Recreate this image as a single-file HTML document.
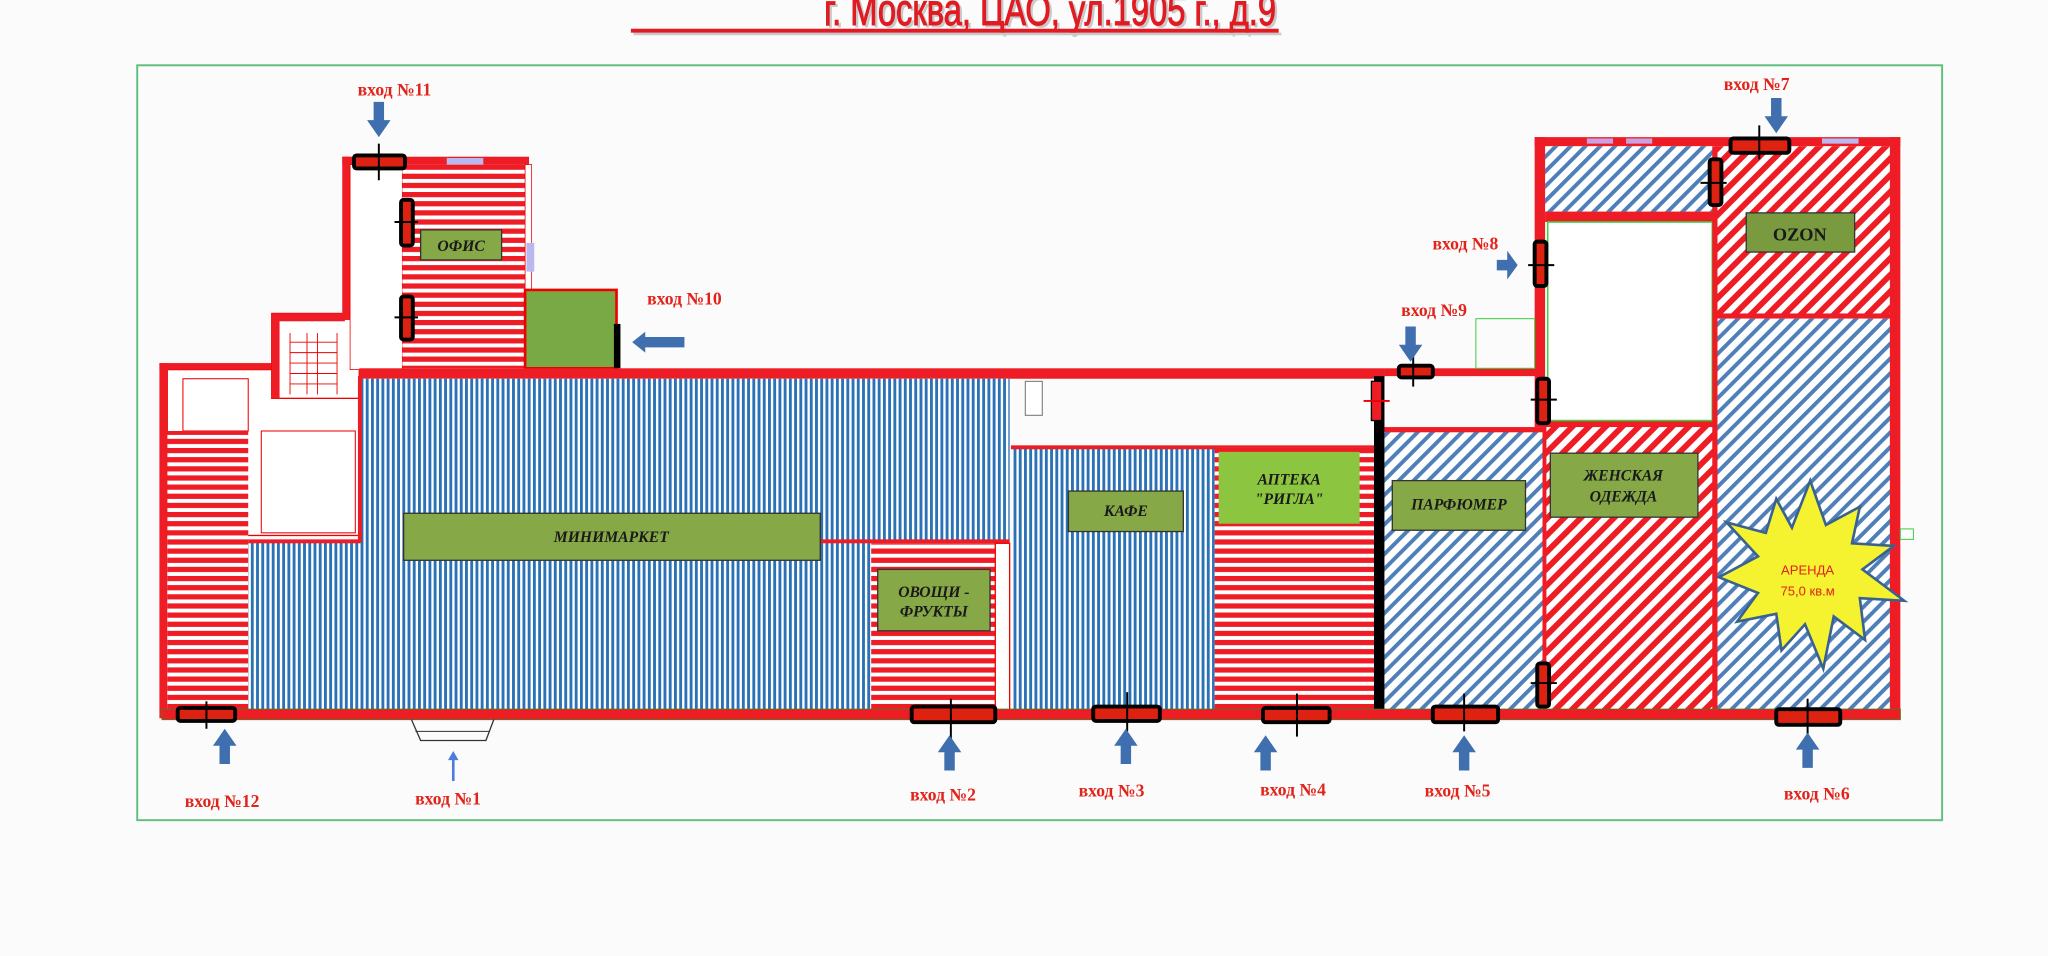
<!DOCTYPE html>
<html><head><meta charset="utf-8"><style>html,body{margin:0;padding:0;background:#fbfbfb}svg{display:block}</style></head><body>
<svg width="2048" height="956" viewBox="0 0 1568 732" xmlns="http://www.w3.org/2000/svg">
<defs>
<pattern id="bv" width="4" height="4" patternUnits="userSpaceOnUse"><rect width="4" height="4" fill="#fff"/><rect width="2.2" height="4" fill="#2a72b5"/></pattern>
<pattern id="rh" width="7" height="7" patternUnits="userSpaceOnUse"><rect width="7" height="7" fill="#fff"/><rect width="7" height="4" fill="#ee1c24"/></pattern>
<pattern id="bd" width="8" height="8" patternUnits="userSpaceOnUse" patternTransform="rotate(45)"><rect width="8" height="8" fill="#fff"/><rect width="3" height="8" fill="#4f7fb8"/></pattern>
<pattern id="rd" width="9" height="9" patternUnits="userSpaceOnUse" patternTransform="rotate(45)"><rect width="9" height="9" fill="#fff"/><rect width="4.5" height="9" fill="#ee1c24"/></pattern>
<g id="upArrow"><polygon points="-4,0 4,0 4,-14 9,-14 0,-27 -9,-14 -4,-14" fill="#3f6fae"/></g>
</defs>
<rect width="1568" height="732" fill="#fbfbfb"/>
<!-- title -->
<text x="633" y="21" font-family="Liberation Sans, sans-serif" font-size="34" fill="#c9c9c9" textLength="346" lengthAdjust="spacingAndGlyphs">г. Москва, ЦАО, ул.1905 г., д.9</text>
<text x="631" y="19" font-family="Liberation Sans, sans-serif" font-size="34" fill="#e01b22" textLength="346" lengthAdjust="spacingAndGlyphs" stroke="#e01b22" stroke-width="0.8">г. Москва, ЦАО, ул.1905 г., д.9</text>
<rect x="485" y="25" width="496" height="2" fill="#c8c8c8"/>
<rect x="483" y="22" width="496" height="3" fill="#e01b22"/>
<!-- frame -->
<rect x="105" y="50" width="1382" height="578" fill="none" stroke="#5fbf7f" stroke-width="1.5"/>

<!-- left wing -->
<rect x="128" y="283" width="147" height="127" fill="#fff" stroke="#e00" stroke-width="1"/>
<rect x="140" y="290" width="50" height="40" fill="none" stroke="#e00" stroke-width="0.8"/>
<rect x="200" y="330" width="72" height="78" fill="none" stroke="#e00" stroke-width="0.8"/>
<rect x="128" y="330" width="62" height="215" fill="url(#rh)"/>
<rect x="122" y="278" width="6" height="272" fill="#ee1c24"/>
<rect x="122" y="278" width="90" height="5" fill="#ee1c24"/>
<!-- stair -->
<rect x="208" y="240" width="67" height="65" fill="#fff" stroke="#e00" stroke-width="1"/>
<rect x="208" y="240" width="56" height="6" fill="#ee1c24"/>
<rect x="208" y="240" width="6" height="65" fill="#ee1c24"/>
<g stroke="#e00" stroke-width="0.7"><line x1="222" y1="255" x2="222" y2="302"/><line x1="235" y1="255" x2="235" y2="302"/><line x1="243" y1="255" x2="243" y2="302"/><line x1="258" y1="255" x2="258" y2="302"/>
<line x1="222" y1="262" x2="258" y2="262"/><line x1="222" y1="270" x2="258" y2="270"/><line x1="222" y1="278" x2="258" y2="278"/><line x1="222" y1="286" x2="258" y2="286"/><line x1="222" y1="294" x2="258" y2="294"/></g>
<!-- corridor & office -->
<rect x="262" y="120" width="6" height="125" fill="#ee1c24"/>
<rect x="262" y="120" width="143" height="6" fill="#ee1c24"/>
<rect x="268" y="126" width="40" height="157" fill="#fff" stroke="#e00" stroke-width="0.6"/>
<rect x="308" y="126" width="94" height="156" fill="url(#rh)"/>
<rect x="342" y="121" width="28" height="5" fill="#b9b9f0"/>
<rect x="402" y="126" width="5" height="96" fill="#fff" stroke="#e00" stroke-width="0.6"/>
<rect x="403" y="186" width="6" height="22" fill="#b9b9f0"/>
<rect x="402" y="222" width="70" height="60" fill="#78a944" stroke="#e00" stroke-width="2"/>
<rect x="470" y="248" width="5" height="34" fill="#000"/>
<polygon points="484,262 494,254 494,258 524,258 524,266 494,266 494,270" fill="#3f6fae"/>
<!-- main corridor wall -->
<rect x="275" y="282" width="785" height="8" fill="#ee1c24"/>
<rect x="1060" y="282" width="120" height="6" fill="#ee1c24"/>
<!-- minimarket -->
<rect x="276" y="290" width="497" height="125" fill="url(#bv)"/>
<rect x="190" y="415" width="477" height="130" fill="url(#bv)"/>
<rect x="190" y="413" width="86" height="3" fill="#ee1c24"/>
<rect x="628" y="413" width="145" height="3" fill="#ee1c24"/>
<rect x="274" y="288" width="3" height="127" fill="#ee1c24"/>
<rect x="667" y="416" width="95" height="129" fill="url(#rh)"/>
<rect x="762" y="416" width="11" height="129" fill="#fff" stroke="#e00" stroke-width="1"/>
<rect x="785" y="292" width="13" height="26" fill="#fff" stroke="#777" stroke-width="0.8"/>
<!-- cafe / apteka -->
<rect x="776" y="343" width="154" height="202" fill="url(#bv)"/>
<rect x="774" y="341" width="280" height="3" fill="#ee1c24"/>
<rect x="930" y="343" width="122" height="202" fill="url(#rh)"/>
<rect x="1052" y="288" width="8" height="260" fill="#000"/>
<!-- parfum / women -->
<rect x="1060" y="330" width="123" height="215" fill="url(#bd)"/>
<rect x="1060" y="327" width="125" height="4" fill="#ee1c24"/>
<rect x="1183" y="325" width="130" height="220" fill="url(#rd)"/>
<rect x="1181" y="322" width="134" height="5" fill="#ee1c24"/>
<rect x="1181" y="325" width="3" height="220" fill="#ee1c24"/>
<!-- right building -->
<rect x="1175" y="105" width="280" height="7" fill="#ee1c24"/>
<rect x="1215" y="106" width="20" height="4" fill="#c9a0e0"/><rect x="1245" y="106" width="20" height="4" fill="#c9a0e0"/><rect x="1395" y="106" width="28" height="4" fill="#b9b9f0"/>
<rect x="1183" y="112" width="130" height="50" fill="url(#bd)"/>
<rect x="1183" y="162" width="130" height="8" fill="#ee1c24"/>
<rect x="1185" y="170" width="126" height="152" fill="#fff" stroke="#4c4" stroke-width="1.2"/>
<rect x="1175" y="105" width="8" height="222" fill="#ee1c24"/>
<rect x="1130" y="244" width="45" height="38" fill="none" stroke="#4c4" stroke-width="0.8"/>
<rect x="1313" y="112" width="137" height="130" fill="url(#rd)"/>
<rect x="1313" y="240" width="137" height="4" fill="#ee1c24"/>
<rect x="1313" y="244" width="137" height="301" fill="url(#bd)"/>
<rect x="1311" y="112" width="4" height="433" fill="#ee1c24"/>
<rect x="1447" y="105" width="8" height="445" fill="#ee1c24"/>
<rect x="1455" y="405" width="10" height="8" fill="#fff" stroke="#4c4" stroke-width="0.8"/>
<!-- starburst -->
<polygon fill="#f5f230" stroke="#3a6290" stroke-width="2" points="1386,368 1398,402 1424,388 1418,416 1450,418 1426,436 1458,460 1424,458 1428,490 1404,472 1396,512 1382,478 1364,498 1360,470 1330,476 1346,454 1316,442 1346,426 1322,400 1352,408 1360,382 1372,404"/>
<text x="1384" y="440" text-anchor="middle" font-family="Liberation Sans, sans-serif" font-size="10" fill="#e2231a">АРЕНДА</text>
<text x="1384" y="456" text-anchor="middle" font-family="Liberation Sans, sans-serif" font-size="10" fill="#e2231a">75,0 кв.м</text>
<!-- bottom wall -->
<rect x="124" y="543" width="1331" height="8" fill="#ee1c24" stroke="#6b6b20" stroke-width="0.8"/>
<!-- label boxes -->
<g font-family="Liberation Serif, serif" font-weight="bold" font-style="italic" fill="#1a1a1a" text-anchor="middle">
<rect x="322" y="176" width="62" height="23" fill="#86a846" stroke="#333" stroke-width="1"/><text x="353" y="192" font-size="12">ОФИС</text>
<rect x="309" y="393" width="319" height="36" fill="#86a846" stroke="#333" stroke-width="1"/><text x="468" y="415" font-size="12">МИНИМАРКЕТ</text>
<rect x="672" y="436" width="86" height="47" fill="#86a846" stroke="#333" stroke-width="1"/><text x="715" y="457" font-size="12">ОВОЩИ -</text><text x="715" y="472" font-size="12">ФРУКТЫ</text>
<rect x="818" y="376" width="88" height="31" fill="#86a846" stroke="#333" stroke-width="1"/><text x="862" y="395" font-size="12">КАФЕ</text>
<rect x="933" y="346" width="108" height="55" fill="#8cc640"/><text x="987" y="371" font-size="12">АПТЕКА</text><text x="987" y="386" font-size="12">"РИГЛА"</text>
<rect x="1066" y="368" width="102" height="38" fill="#86a846" stroke="#333" stroke-width="1"/><text x="1117" y="390" font-size="12">ПАРФЮМЕР</text>
<rect x="1187" y="347" width="113" height="49" fill="#86a846" stroke="#333" stroke-width="1"/><text x="1243" y="368" font-size="12">ЖЕНСКАЯ</text><text x="1243" y="384" font-size="12">ОДЕЖДА</text>
<rect x="1337" y="163" width="83" height="30" fill="#7a9a40" stroke="#333" stroke-width="1"/><text x="1378" y="184" font-size="14" font-style="normal">OZON</text>
</g>
<!-- doors -->
<g fill="#d21" stroke="#000" stroke-width="3">
<rect x="136" y="542" width="44" height="10" rx="2"/>
<rect x="698" y="541" width="64" height="12" rx="2"/>
<rect x="837" y="541" width="51" height="11" rx="2"/>
<rect x="967" y="542" width="51" height="11" rx="2"/>
<rect x="1097" y="541" width="50" height="12" rx="2"/>
<rect x="1360" y="543" width="49" height="12" rx="2"/>
<rect x="1325" y="106" width="45" height="11" rx="2"/>
<rect x="1071" y="280" width="26" height="9" rx="2"/>
<rect x="271" y="119" width="39" height="10" rx="2"/>
<rect x="307" y="153" width="9" height="35" rx="2"/>
<rect x="307" y="227" width="9" height="33" rx="2"/>
<rect x="1175" y="185" width="9" height="34" rx="2"/>
<rect x="1177" y="290" width="9" height="34" rx="2"/>
<rect x="1177" y="508" width="9" height="33" rx="2"/>
<rect x="1309" y="122" width="9" height="35" rx="2"/>
</g>
<g stroke="#000" stroke-width="1.5">
<line x1="158" y1="537" x2="158" y2="558"/><line x1="728" y1="535" x2="728" y2="566"/><line x1="863" y1="530" x2="863" y2="560"/><line x1="993" y1="531" x2="993" y2="564"/><line x1="1121" y1="531" x2="1121" y2="560"/><line x1="1384" y1="535" x2="1384" y2="565"/><line x1="1347" y1="96" x2="1347" y2="122"/><line x1="1082" y1="273" x2="1082" y2="296"/><line x1="290" y1="110" x2="290" y2="138"/>
<line x1="302" y1="170" x2="320" y2="170"/><line x1="302" y1="243" x2="320" y2="243"/><line x1="1170" y1="203" x2="1190" y2="203"/><line x1="1172" y1="306" x2="1192" y2="306"/><line x1="1172" y1="523" x2="1192" y2="523"/><line x1="1302" y1="140" x2="1322" y2="140"/>
</g>
<rect x="1050" y="292" width="8" height="30" fill="#ee1c24" stroke="#000" stroke-width="1"/>
<line x1="1044" y1="307" x2="1064" y2="307" stroke="#e00" stroke-width="1.5"/>
<!-- entrance 1 -->
<polyline points="315,551 322,567 372,567 378,551" fill="none" stroke="#333" stroke-width="1"/>
<line x1="318" y1="560" x2="375" y2="560" stroke="#333" stroke-width="0.8"/>
<polygon points="346,598 348,598 348,582 351,582 347,575 343,582 346,582" fill="#4a7de0"/>
<!-- arrows -->
<use href="#upArrow" x="172" y="585"/>
<use href="#upArrow" x="727" y="590"/>
<use href="#upArrow" x="862" y="585"/>
<use href="#upArrow" x="969" y="590"/>
<use href="#upArrow" x="1121" y="590"/>
<use href="#upArrow" x="1384" y="588"/>
<use href="#upArrow" transform="translate(1360,75) rotate(180)"/>
<use href="#upArrow" transform="translate(1080,250) rotate(180)"/>
<use href="#upArrow" transform="translate(290,78) rotate(180)"/>
<polygon points="1162,203 1154,192 1154,199 1146,199 1146,207 1154,207 1154,214" fill="#3f6fae"/>
<!-- entrance labels -->
<g font-family="Liberation Serif, serif" font-weight="bold" font-size="13.5" fill="#e2231a" text-anchor="middle">
<text x="170" y="618">вход №12</text>
<text x="343" y="616">вход №1</text>
<text x="722" y="613">вход №2</text>
<text x="851" y="610">вход №3</text>
<text x="990" y="609">вход №4</text>
<text x="1116" y="610">вход №5</text>
<text x="1391" y="612">вход №6</text>
<text x="1345" y="69">вход №7</text>
<text x="1122" y="191">вход №8</text>
<text x="1098" y="242">вход №9</text>
<text x="524" y="233">вход №10</text>
<text x="302" y="73">вход №11</text>
</g>
</svg>
</body></html>
